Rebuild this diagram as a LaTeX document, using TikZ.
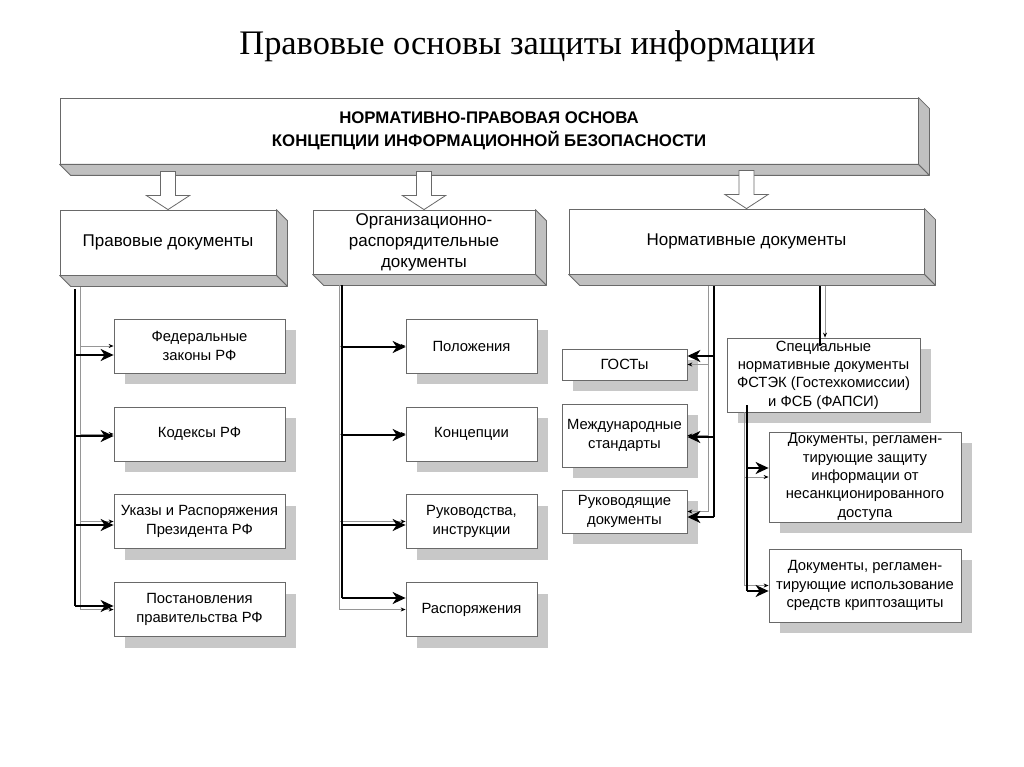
\documentclass[tikz,border=0pt]{standalone}
\usepackage{fontspec}
\setmainfont{Liberation Serif}
\setsansfont{Liberation Sans}
\usetikzlibrary{arrows.meta, calc, shadows}
\definecolor{edge}{RGB}{105,105,105}
\definecolor{wire}{RGB}{150,150,150}
\definecolor{slabgray}{RGB}{192,192,192}
\definecolor{shade}{RGB}{200,200,200}
\tikzset{
    bar/.style={draw=edge, fill=white, line width=0.8pt, align=center, inner sep=1pt,
                font=\sffamily\fontsize{17}{21}\selectfont},
    leaf/.style={draw=edge, fill=white, line width=0.8pt, align=center, inner sep=0.5pt,
                 font=\sffamily\fontsize{14.8}{18.3}\selectfont,
                 drop shadow={shadow xshift=11pt, shadow yshift=-11pt, fill=shade, opacity=1}},
    slabface/.style={fill=slabgray, draw=edge, line width=0.8pt, line join=round},
    hollow/.style={fill=white, draw=edge, line width=0.8pt},
    blk/.style={line width=2pt, -{Stealth[length=13pt, width=12pt, inset=4pt]}},
    blkline/.style={line width=2pt},
    gry/.style={draw=wire, line width=0.8pt, -{Stealth[length=5pt, width=4pt, black]}},
    gryline/.style={draw=wire, line width=0.8pt},
}
% side and bottom faces of a raised box
\newcommand\slab[1]{%
    \filldraw[slabface] (#1.north east) -- ++(11,11) -- ($(#1.south east)+(11,11)$) -- (#1.south east) -- cycle;
    \filldraw[slabface] (#1.south west) -- (#1.south east) -- ++(11,11) -- ($(#1.south west)+(11,11)$) -- cycle;
}
% hollow arrow ending on top of a box
\newcommand\hollowarrow[1]{%
    \filldraw[hollow] (#1.north) -- ++(-21.5,-14) -- ++(14,0) -- ++(0,-24) -- ++(15,0) -- ++(0,24) -- ++(14,0) -- cycle;
}
\begin{document}
\begin{tikzpicture}[x=1pt, y=-1pt]
    \useasboundingbox (0,0) rectangle (1024,767);

    \node[font=\fontsize{34.4}{40}\selectfont] (head) at (527.5,46) {Правовые основы защиты информации};

    % top level
    \node[bar, minimum width=858pt, minimum height=66pt, font=\sffamily\bfseries\fontsize{16.8}{23}\selectfont]
        (base) at (489,131) {НОРМАТИВНО-ПРАВОВАЯ ОСНОВА\\КОНЦЕПЦИИ ИНФОРМАЦИОННОЙ БЕЗОПАСНОСТИ};
    \slab{base}

    % second level
    \node[bar, minimum width=216pt, minimum height=65pt] (legal) at (168,242.5) {Правовые документы};
    \node[bar, minimum width=222pt, minimum height=64pt] (admin) at (424,242) {Организационно-\\распорядительные\\документы};
    \node[bar, minimum width=355pt, minimum height=65pt] (norm) at (746.5,241.5) {Нормативные документы};
    \slab{legal}
    \slab{admin}
    \slab{norm}

    \hollowarrow{legal}
    \hollowarrow{admin}
    \hollowarrow{norm}

    % legal documents
    \node[leaf, minimum width=171pt, minimum height=54pt] (f1) at (199.5,346) {Федеральные\\законы РФ};
    \node[leaf, minimum width=171pt, minimum height=54pt] (f2) at (199.5,434) {Кодексы РФ};
    \node[leaf, minimum width=171pt, minimum height=54pt] (f3) at (199.5,521.5) {Указы и Распоряжения\\Президента РФ};
    \node[leaf, minimum width=171pt, minimum height=54pt] (f4) at (199.5,609.5) {Постановления\\правительства РФ};

    % administrative documents
    \node[leaf, minimum width=131pt, minimum height=54pt] (o1) at (471.5,346) {Положения};
    \node[leaf, minimum width=131pt, minimum height=54pt] (o2) at (471.5,434) {Концепции};
    \node[leaf, minimum width=131pt, minimum height=54pt] (o3) at (471.5,521.5) {Руководства,\\инструкции};
    \node[leaf, minimum width=131pt, minimum height=54pt] (o4) at (471.5,609.5) {Распоряжения};

    % normative documents
    \node[leaf, minimum width=125pt, minimum height=31pt] (gost) at (624.5,364.5) {ГОСТы};
    \node[leaf, minimum width=125pt, minimum height=63pt] (intl) at (624.5,435.5) {Международные\\стандарты};
    \node[leaf, minimum width=125pt, minimum height=43pt] (guide) at (624.5,511.5) {Руководящие\\документы};
    \node[leaf, minimum width=193pt, minimum height=74pt] (spec) at (823.5,375) {Специальные\\нормативные документы\\ФСТЭК (Гостехкомиссии)\\и ФСБ (ФАПСИ)};
    \node[leaf, minimum width=192pt, minimum height=90pt] (nsd) at (865,477) {Документы, регламен-\\тирующие защиту\\информации от\\несанкционированного\\доступа};
    \node[leaf, minimum width=192pt, minimum height=73pt] (crypt) at (865,585.5) {Документы, регламен-\\тирующие использование\\средств криптозащиты};

    % connectors: legal
    \coordinate (lg) at (80,287);
    \coordinate (lb) at (75,289);
    \draw[gryline] (lg) -- (lg |- f4.west);
    \foreach \n in {f1,f2,f3,f4}
        \draw[gry] (lg |- \n.west) -- (\n.west);
    \draw[blkline] (lb) -- ($(lb |- f4.west)+(0,-3.5)$);
    \foreach \n/\d in {f1/9, f2/2, f3/3.5, f4/-3.5}
        \draw[blk] ($(lb |- \n.west)+(0,\d)$) -- ($(\n.west)+(0,\d)$);

    % connectors: administrative
    \coordinate (ag) at (339,285);
    \coordinate (ab) at (342,285);
    \draw[gryline] (ag) -- (ag |- o4.west);
    \foreach \n in {o1,o2,o3,o4}
        \draw[gry] (ag |- \n.west) -- (\n.west);
    \draw[blkline] (ab) -- ($(ab |- o4.west)+(0,-11.5)$);
    \foreach \n/\d in {o1/1, o2/1, o3/3.5, o4/-11.5}
        \draw[blk] ($(ab |- \n.west)+(0,\d)$) -- ($(\n.west)+(0,\d)$);

    % connectors: normative
    \coordinate (ng) at (708,286);
    \coordinate (nb) at (714,286);
    \draw[gryline] (ng) -- (ng |- guide.east);
    \foreach \n in {gost,intl,guide}
        \draw[gry] (ng |- \n.east) -- (\n.east);
    \draw[blkline] (nb) -- ($(nb |- guide.east)+(0,5.5)$);
    \foreach \n/\d in {gost/-8.5, intl/1.5, guide/5.5}
        \draw[blk] ($(nb |- \n.east)+(0,\d)$) -- ($(\n.east)+(0,\d)$);

    \coordinate (sg) at (825,286);
    \coordinate (sb) at (820,286);
    \draw[gry] (sg) -- (sg |- spec.north);
    \draw[blkline] (sb) -- (820,346);

    % connectors: special documents
    \coordinate (kg) at (744,412);
    \coordinate (kb) at (747,405);
    \draw[gryline] (kg) -- (kg |- crypt.west);
    \foreach \n in {nsd,crypt}
        \draw[gry] (kg |- \n.west) -- (\n.west);
    \draw[blkline] (kb) -- ($(kb |- crypt.west)+(0,5.5)$);
    \foreach \n/\d in {nsd/-9, crypt/5.5}
        \draw[blk] ($(kb |- \n.west)+(0,\d)$) -- ($(\n.west)+(0,\d)$);
\end{tikzpicture}
\end{document}
